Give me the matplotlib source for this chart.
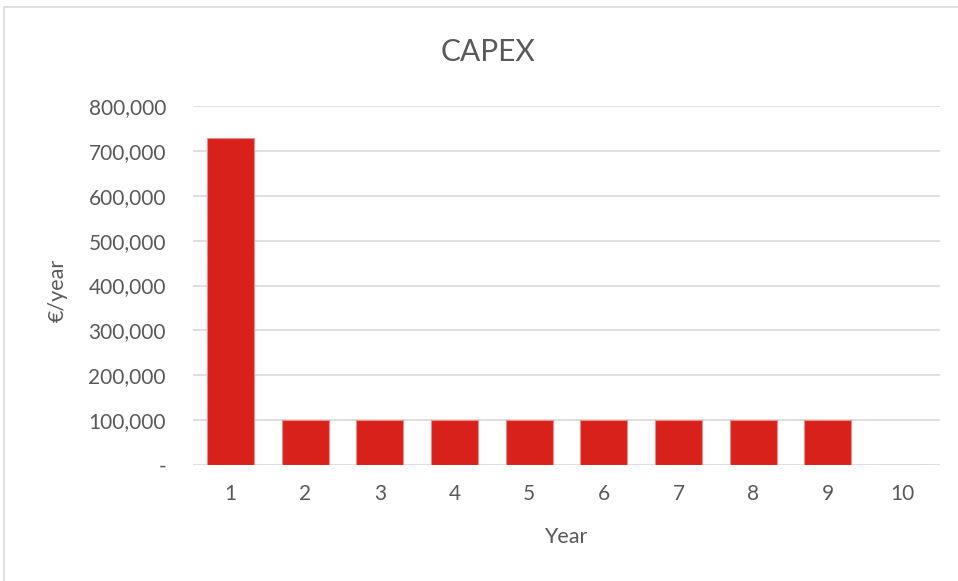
import matplotlib
matplotlib.use("Agg")
import matplotlib.pyplot as plt
from matplotlib.patches import Rectangle
from matplotlib.ticker import FuncFormatter

years = [1, 2, 3, 4, 5, 6, 7, 8, 9, 10]
capex = [728000, 100000, 100000, 100000, 100000, 100000, 100000, 100000, 100000, 0]
y_ticks = [0, 100000, 200000, 300000, 400000, 500000, 600000, 700000, 800000]

W, H = 958, 581
TEXT = '#595959'
plt.rcParams['font.family'] = ['Lato', 'DejaVu Sans']
fig = plt.figure(figsize=(W / 100, H / 100), dpi=100)

# chart-area frame (only left and top edges fall inside the canvas)
fig.patches.append(Rectangle((4 / W, -0.1), 1.2, 1 - 7 / H + 0.1,
                             transform=fig.transFigure, fill=False,
                             edgecolor='#D9D9D9', linewidth=1.2))

ax = fig.add_axes([193 / W, 1 - 465 / H, (940 - 193) / W, (465 - 106) / H])
ax.bar(years, capex, width=0.63, color='#D9211C', edgecolor='#EE8E8B',
       linewidth=0.8, zorder=3)

ax.set_xlim(0.5, 10.5)
ax.set_ylim(0, 800000)
ax.set_yticks(y_ticks)
ax.yaxis.set_major_formatter(FuncFormatter(lambda v, p: '-' if v == 0 else f'{v:,.0f}'))
ax.set_xticks(years)
ax.grid(axis='y', color='#D9D9D9', linewidth=1.2, zorder=0)
for s in ax.spines.values():
    s.set_visible(False)
ax.tick_params(axis='both', length=0, labelsize=15, colors=TEXT)
ax.tick_params(axis='y', pad=19.5)
ax.tick_params(axis='x', pad=14)

fig.text(566 / W, 1 - 537 / H, 'Year', ha='center', va='center',
         fontsize=15.5, color=TEXT)
fig.text(58 / W, 1 - 290 / H, '€/year', ha='center', va='center',
         rotation=90, fontsize=15.5, color=TEXT)
fig.text(488 / W, 1 - 52 / H, 'CAPEX', ha='center', va='center',
         fontsize=21.5, color=TEXT)

fig.savefig('out.png', dpi=100)
